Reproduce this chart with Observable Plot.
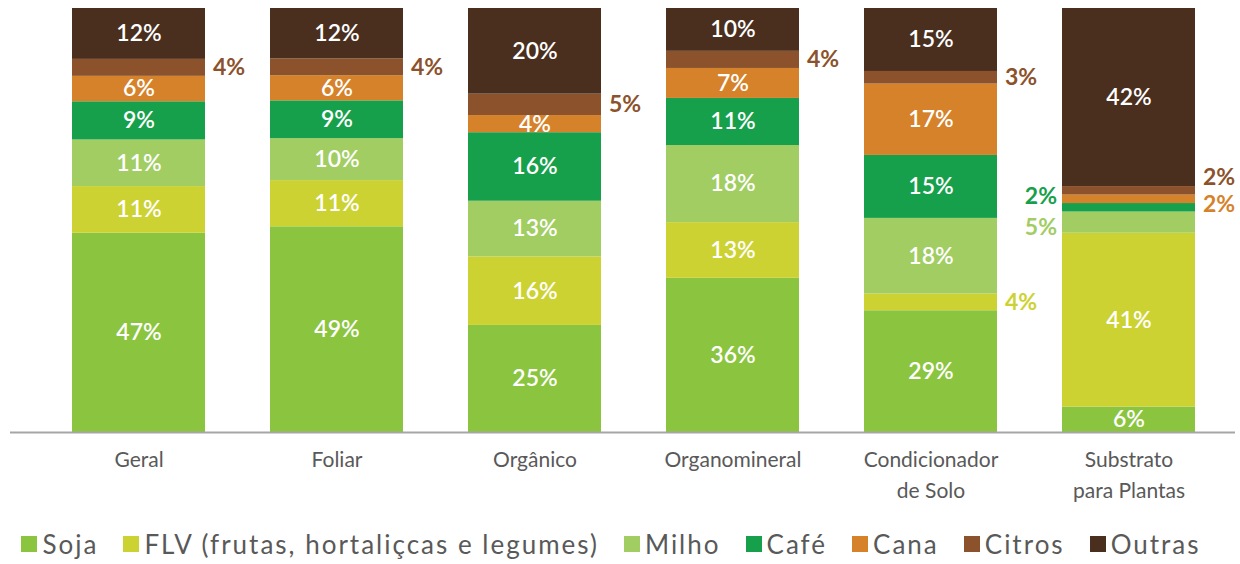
<!DOCTYPE html>
<html>
<head>
<meta charset="utf-8">
<script src="https://cdn.jsdelivr.net/npm/d3@7"></script>
<script src="https://cdn.jsdelivr.net/npm/@observablehq/plot@0.6"></script>
<style>
  html, body { margin: 0; padding: 0; background: #fff; }
  body { width: 1240px; height: 564px; overflow: hidden; font-family: Lato, "Open Sans", sans-serif; }
  #legend { display: flex; justify-content: center; align-items: center; gap: 25px; height: 54px; margin-left: -18px;
            padding-top: 14px; box-sizing: border-box; font-size: 26px; letter-spacing: 2px; color: #595959; }
  #legend .item { display: flex; align-items: center; white-space: nowrap; }
  #legend .sw { width: 16px; height: 16px; margin-right: 5px; }
</style>
</head>
<body>
<div id="chart"></div>
<div id="legend"></div>
<script>
const categories = ["Geral", "Foliar", "Orgânico", "Organomineral", "Condicionador\nde Solo", "Substrato\npara Plantas"];
const series = ["Soja", "FLV (frutas, hortaliçcas e legumes)", "Milho", "Café", "Cana", "Citros", "Outras"];
const soja   = [47, 49, 25, 36, 29, 6];
const flv    = [11, 11, 16, 13, 4, 41];
const milho  = [11, 10, 13, 18, 18, 5];
const cafe   = [9, 9, 16, 11, 15, 2];
const cana   = [6, 6, 4, 7, 17, 2];
const citros = [4, 4, 5, 4, 3, 2];
const outras = [12, 12, 20, 10, 15, 42];
const colors = ["#8bc53f", "#cdd233", "#a1cd63", "#17a04b", "#d5822a", "#8b522b", "#4a2f1f"];

// labels drawn outside the bars: [category index, series index, side, vertical nudge]
const outsideLabels = [
  [0, 5, "right", 0], [1, 5, "right", 0], [2, 5, "right", 0], [3, 5, "right", 0],
  [4, 5, "right", 0], [4, 1, "right", 0],
  [5, 5, "right", -13], [5, 4, "right", 5], [5, 3, "left", -11], [5, 2, "left", 5]
];

const valuesBySeries = [soja, flv, milho, cafe, cana, citros, outras];
const table = [];
categories.forEach((c, i) => {
  series.forEach((s, j) => {
    table.push({category: c, ci: i, series: s, si: j, value: valuesBySeries[j][i]});
  });
});
const isOutside = (d) => outsideLabels.some(([ci, si]) => ci === d.ci && si === d.si);

const stackOpts = {x: "category", y: "value", z: "series", order: series, offset: "normalize"};

const marks = [
  Plot.barY(table, Plot.stackY({...stackOpts, fill: "series"})),
  Plot.text(table, Plot.stackY({...stackOpts,
    text: d => isOutside(d) ? null : d.value + "%",
    fill: "white", fontSize: 23, fontWeight: 600})),
  Plot.ruleY([0], {stroke: "#a6a6a6", strokeWidth: 2, insetLeft: -27, insetRight: -5}),
  Plot.text(categories, {x: d => d, frameAnchor: "bottom", lineAnchor: "top", dy: 13,
    lineHeight: 1.45, fontSize: 21, fill: "#595959"})
];

outsideLabels.forEach(([ci, si, side, nudge]) => {
  marks.push(Plot.text(table, Plot.stackY({...stackOpts,
    text: d => (d.ci === ci && d.si === si) ? d.value + "%" : null,
    fill: colors[si], fontSize: 23, fontWeight: 700,
    textAnchor: side === "right" ? "start" : "end",
    dx: side === "right" ? 74 : -72, dy: nudge})));
});

const chart = Plot.plot({
  width: 1240,
  height: 510,
  marginTop: 8,
  marginBottom: 78,
  marginLeft: 37,
  marginRight: 10,
  style: {fontFamily: "Lato, 'Open Sans', sans-serif", background: "#fff"},
  x: {domain: categories, paddingInner: 0.327, paddingOuter: 0.164, axis: null},
  y: {domain: [0, 1], axis: null},
  color: {domain: series, range: colors},
  marks
});
document.getElementById("chart").appendChild(chart);

const legend = document.getElementById("legend");
series.forEach((s, j) => {
  const item = document.createElement("div");
  item.className = "item";
  const sw = document.createElement("span");
  sw.className = "sw";
  sw.style.background = colors[j];
  const t = document.createElement("span");
  t.textContent = s;
  item.appendChild(sw);
  item.appendChild(t);
  legend.appendChild(item);
});
</script>
</body>
</html>
